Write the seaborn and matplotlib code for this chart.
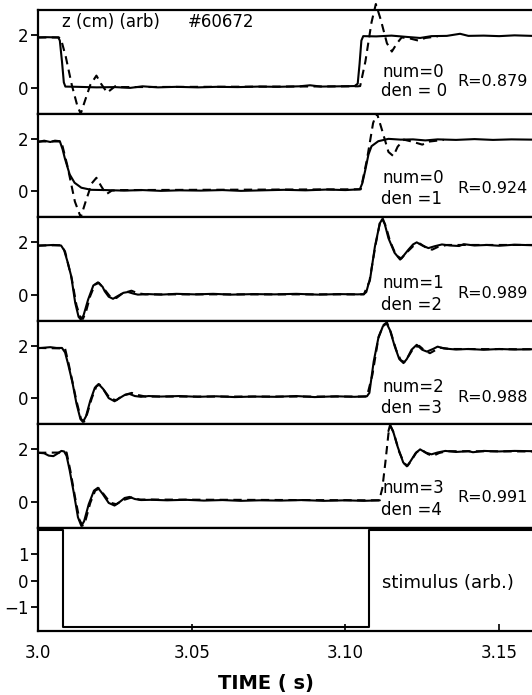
import pandas as pd
import matplotlib
matplotlib.use('Agg')
import matplotlib.pyplot as plt
import seaborn as sns

# time axis
t_start, t_end = 3.0, 3.1607
time_ticks = [3.0, 3.05, 3.10, 3.15]
time_labels = ['3.0', '3.05', '3.10', '3.15']

# panel texts
num_labels = ['num=0', 'num=0', 'num=1', 'num=2', 'num=3']
den_labels = ['den = 0', 'den =1', 'den =2', 'den =3', 'den =4']
r_labels = ['R=0.879', 'R=0.924', 'R=0.989', 'R=0.988', 'R=0.991']

# traces, (time [s], z [arb])
z1_solid = [(3.0000, 1.92), (3.0030, 1.93), (3.0066, 1.92), (3.0071, 1.80), (3.0078, 1.00),
            (3.0084, 0.20), (3.0089, 0.04), (3.0130, 0.03), (3.0190, 0.01), (3.0250, 0.02),
            (3.0300, -0.01), (3.0340, 0.05), (3.0390, 0.01), (3.0450, 0.03), (3.0520, 0.01),
            (3.0580, 0.03), (3.0650, 0.02), (3.0720, 0.04), (3.0780, 0.03), (3.0850, 0.05),
            (3.0885, 0.09), (3.0920, 0.04), (3.0980, 0.05), (3.1030, 0.06), (3.1040, 0.15),
            (3.1046, 0.90), (3.1052, 1.80), (3.1058, 1.97), (3.1100, 1.96), (3.1150, 1.99),
            (3.1200, 1.94), (3.1243, 1.90), (3.1280, 1.97), (3.1330, 1.98), (3.1373, 2.06),
            (3.1400, 1.98), (3.1450, 1.99), (3.1500, 1.97), (3.1550, 2.00), (3.1607, 1.98)]
z1_dashed = [(3.0000, 1.92), (3.0068, 1.92), (3.0075, 1.85), (3.0090, 1.20), (3.0110, 0.10),
             (3.0128, -0.70), (3.0139, -1.00), (3.0150, -0.60), (3.0170, 0.10), (3.0190, 0.46),
             (3.0205, 0.15), (3.0225, -0.19), (3.0240, -0.05), (3.0252, 0.06), (3.0270, 0.02),
             (3.1040, 0.05), (3.1048, 0.06), (3.1065, 1.00), (3.1085, 2.50), (3.1099, 3.20),
             (3.1115, 2.60), (3.1135, 1.70), (3.1151, 1.38), (3.1168, 1.70), (3.1183, 1.92),
             (3.1210, 1.88), (3.1237, 1.80), (3.1260, 1.90), (3.1300, 1.96)]

z2_solid = [(3.0000, 1.88), (3.0020, 1.93), (3.0040, 1.88), (3.0055, 1.93), (3.0071, 1.91),
            (3.0080, 1.60), (3.0087, 1.27), (3.0103, 0.64), (3.0119, 0.32), (3.0141, 0.13),
            (3.0173, 0.05), (3.0220, 0.04), (3.0280, 0.02), (3.0340, 0.04), (3.0400, 0.01),
            (3.0460, 0.03), (3.0530, 0.02), (3.0600, 0.04), (3.0660, 0.01), (3.0730, 0.03),
            (3.0800, 0.05), (3.0870, 0.03), (3.0940, 0.06), (3.1000, 0.04), (3.1047, 0.07),
            (3.1055, 0.30), (3.1064, 0.77), (3.1075, 1.40), (3.1085, 1.72), (3.1107, 1.91),
            (3.1140, 2.00), (3.1180, 1.97), (3.1220, 1.98), (3.1260, 1.94), (3.1300, 1.98),
            (3.1360, 1.96), (3.1420, 1.99), (3.1480, 1.96), (3.1540, 1.98), (3.1607, 1.97)]
z2_dashed = [(3.0000, 1.90), (3.0076, 1.90), (3.0095, 1.00), (3.0120, -0.40), (3.0139, -1.00),
             (3.0155, -0.40), (3.0175, 0.30), (3.0190, 0.51), (3.0205, 0.20), (3.0222, -0.12),
             (3.0240, 0.02), (3.0270, 0.04), (3.1050, 0.07), (3.1070, 1.20), (3.1090, 2.60),
             (3.1102, 3.00), (3.1120, 2.30), (3.1140, 1.50), (3.1156, 1.34), (3.1170, 1.70),
             (3.1190, 1.97), (3.1215, 1.90), (3.1250, 1.78), (3.1275, 1.90), (3.1320, 1.96)]

z3_solid = [(3.0000, 1.87), (3.0030, 1.89), (3.0050, 1.90), (3.0075, 1.88), (3.0085, 1.70),
            (3.0095, 1.30), (3.0108, 0.71), (3.0121, -0.31), (3.0132, -0.85), (3.0139, -0.95),
            (3.0148, -0.80), (3.0163, -0.19), (3.0180, 0.35), (3.0195, 0.47), (3.0210, 0.30),
            (3.0217, 0.13), (3.0230, -0.08), (3.0244, -0.16), (3.0260, -0.05), (3.0278, 0.07),
            (3.0293, 0.10), (3.0310, 0.04), (3.0325, 0.00), (3.0360, 0.02), (3.0400, 0.00),
            (3.0450, 0.03), (3.0510, 0.01), (3.0570, 0.03), (3.0630, 0.00), (3.0700, 0.02),
            (3.0770, 0.01), (3.0840, 0.03), (3.0910, 0.00), (3.0980, 0.02), (3.1040, 0.01),
            (3.1060, 0.02), (3.1068, 0.10), (3.1075, 0.40), (3.1080, 0.57), (3.1096, 1.84),
            (3.1112, 2.73), (3.1120, 2.89), (3.1128, 2.70), (3.1140, 2.16), (3.1160, 1.60),
            (3.1178, 1.34), (3.1190, 1.50), (3.1205, 1.72), (3.1220, 1.92), (3.1232, 2.00),
            (3.1250, 1.88), (3.1270, 1.78), (3.1290, 1.85), (3.1314, 1.92), (3.1340, 1.88),
            (3.1370, 1.86), (3.1385, 1.93), (3.1420, 1.88), (3.1460, 1.90), (3.1500, 1.87),
            (3.1550, 1.91), (3.1607, 1.89)]
z3_dashed = [(3.0000, 1.88), (3.0075, 1.89), (3.0088, 1.65), (3.0110, 0.60), (3.0125, -0.40),
             (3.0137, -0.85), (3.0146, -0.93), (3.0155, -0.70), (3.0170, -0.05), (3.0185, 0.38),
             (3.0198, 0.45), (3.0213, 0.25), (3.0235, -0.08), (3.0255, -0.13), (3.0275, 0.05),
             (3.0304, 0.15), (3.0325, 0.05), (3.0350, 0.01), (3.1060, 0.01), (3.1078, 0.50),
             (3.1098, 1.90), (3.1113, 2.80), (3.1121, 2.92), (3.1132, 2.60), (3.1145, 2.05),
             (3.1165, 1.50), (3.1182, 1.38), (3.1200, 1.62), (3.1220, 1.85), (3.1243, 1.95),
             (3.1262, 1.80), (3.1282, 1.72), (3.1300, 1.82), (3.1330, 1.90), (3.1607, 1.90)]

z4_solid = [(3.0000, 1.91), (3.0020, 1.93), (3.0040, 1.95), (3.0060, 1.92), (3.0078, 1.92),
            (3.0088, 1.75), (3.0098, 1.30), (3.0112, 0.60), (3.0125, -0.20), (3.0138, -0.80),
            (3.0146, -0.91), (3.0156, -0.70), (3.0170, -0.10), (3.0185, 0.40), (3.0197, 0.54),
            (3.0212, 0.35), (3.0230, 0.00), (3.0249, -0.12), (3.0265, 0.00), (3.0282, 0.12),
            (3.0298, 0.16), (3.0315, 0.08), (3.0335, 0.05), (3.0360, 0.08), (3.0400, 0.06),
            (3.0460, 0.08), (3.0520, 0.05), (3.0580, 0.07), (3.0640, 0.04), (3.0700, 0.06),
            (3.0770, 0.05), (3.0840, 0.08), (3.0900, 0.04), (3.0970, 0.07), (3.1030, 0.05),
            (3.1070, 0.07), (3.1078, 0.20), (3.1085, 0.80), (3.1092, 1.40), (3.1107, 2.29),
            (3.1122, 2.75), (3.1134, 2.86), (3.1145, 2.60), (3.1160, 2.00), (3.1175, 1.50),
            (3.1189, 1.34), (3.1200, 1.50), (3.1215, 1.85), (3.1232, 2.04), (3.1250, 1.85),
            (3.1265, 1.78), (3.1285, 1.88), (3.1300, 1.97), (3.1320, 1.90), (3.1360, 1.86),
            (3.1400, 1.88), (3.1450, 1.85), (3.1500, 1.88), (3.1550, 1.86), (3.1607, 1.87)]
z4_dashed = [(3.0000, 1.92), (3.0088, 1.90), (3.0100, 1.30), (3.0125, -0.10), (3.0140, -0.80),
             (3.0150, -0.90), (3.0160, -0.60), (3.0175, 0.00), (3.0190, 0.45), (3.0200, 0.52),
             (3.0215, 0.30), (3.0235, -0.02), (3.0255, -0.08), (3.0275, 0.10), (3.0305, 0.20),
             (3.0325, 0.12), (3.0350, 0.06), (3.1070, 0.06), (3.1088, 0.90), (3.1108, 2.35),
             (3.1124, 2.80), (3.1135, 2.90), (3.1147, 2.55), (3.1165, 1.85), (3.1180, 1.45),
             (3.1192, 1.38), (3.1205, 1.60), (3.1222, 1.92), (3.1240, 2.00), (3.1258, 1.82),
             (3.1275, 1.72), (3.1295, 1.85), (3.1310, 1.93), (3.1340, 1.88), (3.1607, 1.87)]

# the solid trace of panel 5 is broken during the rise
z5_solid_a = [(3.0000, 1.87), (3.0020, 1.85), (3.0035, 1.76), (3.0050, 1.74), (3.0065, 1.85),
              (3.0076, 1.94), (3.0085, 1.92), (3.0093, 1.75), (3.0103, 1.20), (3.0117, 0.30),
              (3.0130, -0.60), (3.0141, -0.93), (3.0150, -0.75), (3.0165, -0.10), (3.0182, 0.42),
              (3.0195, 0.53), (3.0210, 0.30), (3.0230, -0.05), (3.0249, -0.15), (3.0265, -0.02),
              (3.0282, 0.14), (3.0298, 0.18), (3.0315, 0.10), (3.0335, 0.06), (3.0370, 0.07),
              (3.0420, 0.05), (3.0480, 0.07), (3.0540, 0.04), (3.0600, 0.06), (3.0660, 0.03),
              (3.0720, 0.05), (3.0790, 0.04), (3.0860, 0.06), (3.0930, 0.03), (3.1000, 0.05),
              (3.1060, 0.03), (3.1112, 0.05)]
z5_solid_b = [(3.1140, 2.70), (3.1145, 2.92), (3.1155, 2.70), (3.1170, 2.10), (3.1188, 1.50),
              (3.1200, 1.35), (3.1212, 1.55), (3.1228, 1.85), (3.1243, 2.00), (3.1260, 1.88),
              (3.1280, 1.81), (3.1300, 1.88), (3.1325, 1.94), (3.1360, 1.90), (3.1400, 1.93),
              (3.1415, 1.89), (3.1450, 1.94), (3.1500, 1.92), (3.1550, 1.94), (3.1607, 1.93)]
z5_dashed = [(3.0000, 1.87), (3.0093, 1.88), (3.0105, 1.20), (3.0120, 0.20), (3.0135, -0.70),
             (3.0145, -0.92), (3.0155, -0.70), (3.0170, -0.05), (3.0186, 0.42), (3.0199, 0.50),
             (3.0214, 0.28), (3.0235, -0.04), (3.0255, -0.10), (3.0275, 0.05), (3.0305, 0.16),
             (3.0330, 0.08), (3.1110, 0.05), (3.1120, 0.50), (3.1130, 1.50), (3.1140, 2.60),
             (3.1147, 2.90), (3.1158, 2.60), (3.1175, 1.90), (3.1192, 1.45), (3.1203, 1.38),
             (3.1216, 1.60), (3.1232, 1.90), (3.1250, 1.97), (3.1268, 1.82), (3.1285, 1.75),
             (3.1305, 1.86), (3.1330, 1.93), (3.1607, 1.92)]

stimulus = [(3.0000, 1.90), (3.0080, 1.90), (3.0080, -1.75), (3.1078, -1.75),
            (3.1078, 1.90), (3.1607, 1.90)]

solid_traces = [[z1_solid], [z2_solid], [z3_solid], [z4_solid], [z5_solid_a, z5_solid_b]]
dashed_traces = [z1_dashed, z2_dashed, z3_dashed, z4_dashed, z5_dashed]

sns.set_theme(style='ticks')
plt.rcParams['font.family'] = ['DejaVu Sans']

W, H = 532, 695
fig = plt.figure(figsize=(W / 100, H / 100), dpi=100)
left = 38 / W
bottom = 1 - 631 / H
top = 1 - 10 / H
ph = (top - bottom) / 6
axes = [fig.add_axes([left, top - (i + 1) * ph, 1 - left, ph]) for i in range(6)]


def trace(ax, pts, dashed=False, clip=True):
    df = pd.DataFrame(pts, columns=['t', 'z'])
    sns.lineplot(data=df, x='t', y='z', ax=ax, color='black', linewidth=1.5,
                 sort=False, estimator=None, clip_on=clip)
    if dashed:
        ax.lines[-1].set_dashes([4, 2.6])


def px_text(x, y, s, **kw):
    fig.text(x / W, 1 - y / H, s, va='center', ha='left', color='black', **kw)


for i in range(5):
    ax = axes[i]
    for seg in solid_traces[i]:
        trace(ax, seg)
    trace(ax, dashed_traces[i], dashed=True, clip=(i != 0))
    ax.set_ylim(-0.99, 2.97)
    ax.set_yticks([0, 2], labels=['0', '2'])

trace(axes[5], stimulus)
axes[5].set_ylim(-1.9, 2.0)
axes[5].set_yticks([-1, 0, 1], labels=['\u22121', '0', '1'])

for i, ax in enumerate(axes):
    ax.set_xlim(t_start, t_end)
    ax.set_xlabel('')
    ax.set_ylabel('')
    ax.set_facecolor('white')
    ax.spines['right'].set_visible(False)
    for s in ['left', 'top', 'bottom']:
        ax.spines[s].set_linewidth(1.6)
        ax.spines[s].set_color('black')
    ax.tick_params(axis='y', direction='out', length=5, width=1.3, pad=2,
                   labelsize=12, colors='black')
    if i < 5:
        ax.set_xticks([])
    else:
        ax.set_xticks(time_ticks, labels=time_labels)
        ax.tick_params(axis='x', direction='in', length=5, width=1.2, pad=9,
                       labelsize=12, colors='black')

# labels
px_text(62, 22, 'z (cm) (arb)', fontsize=12)
px_text(188, 22, '#60672', fontsize=12)
num_y = [72, 178, 283, 387, 488]
den_y = [91, 199, 305, 408, 510]
r_y = [82, 188, 293, 398, 498]
for i in range(5):
    px_text(382, num_y[i], num_labels[i], fontsize=12)
    px_text(381, den_y[i], den_labels[i], fontsize=12)
    px_text(457, r_y[i], r_labels[i], fontsize=11.5)
px_text(382, 583, 'stimulus (arb.)', fontsize=13)

# axis title
px_text(218, 683, 'TIME ( s)', fontsize=14, fontweight='bold')

fig.savefig('out.png', dpi=100, facecolor='white')
